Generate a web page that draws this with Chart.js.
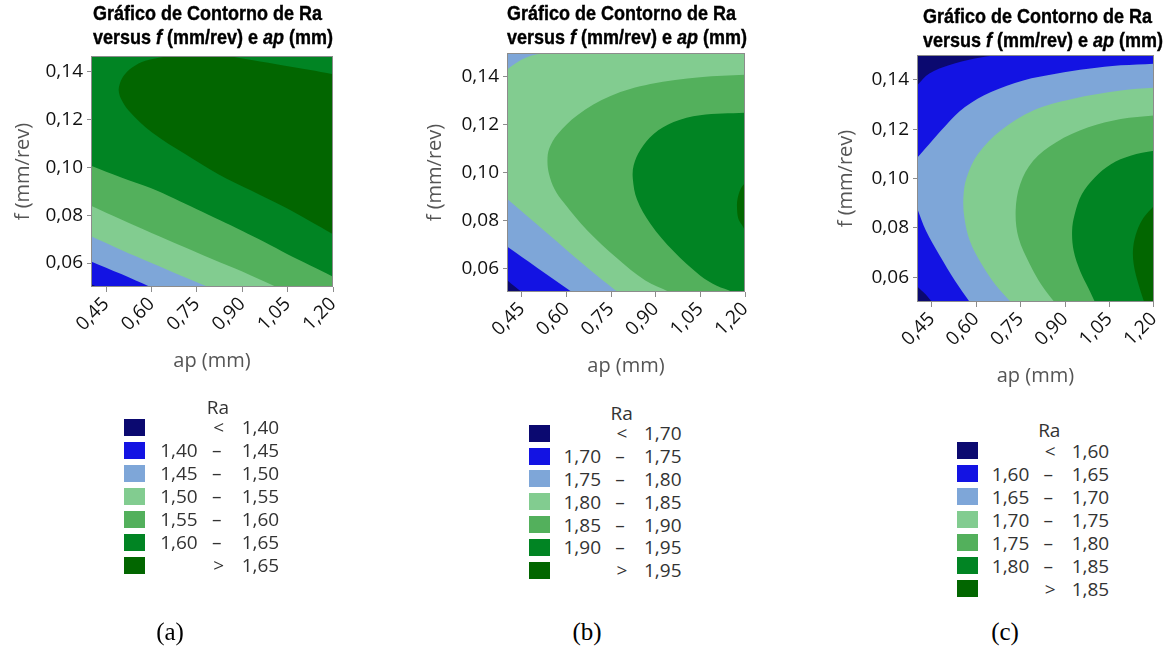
<!DOCTYPE html>
<html>
<head>
<meta charset="utf-8">
<script src="https://cdn.jsdelivr.net/npm/chart.js@4.4.1/dist/chart.umd.min.js"></script>
<style>
  html, body { margin: 0; padding: 0; background: #fff; }
  body { position: relative; width: 1171px; height: 651px; overflow: hidden; font-family: "Open Sans", sans-serif; }
  canvas { position: absolute; top: 0; }
  .title { position: absolute; font-family: "Liberation Sans", Arial, sans-serif; font-weight: bold; font-size: 18px; line-height: 22.2px; color: #000; white-space: nowrap; transform: scaleY(1.1); transform-origin: 0 0; -webkit-text-stroke: 0.35px #000; }
  .legend-item { position: absolute; font-family: "Open Sans", sans-serif; font-size: 19px; line-height: 24px; color: #333; white-space: nowrap; }
  .swatch { position: absolute; width: 21px; height: 17px; }
  .caption { position: absolute; font-family: "Liberation Serif", "Times New Roman", serif; font-size: 25px; line-height: 30px; color: #000; }
</style>
</head>
<body>
<canvas id="chartA"></canvas>
<canvas id="chartB"></canvas>
<canvas id="chartC"></canvas>
<script>
// Colours of the seven Ra classes, lowest to highest
const levelColors = ['#0b0970', '#1313e3', '#7ea6d8', '#82cc90', '#53b05c', '#018423', '#026600'];

// Axis ticks
const xTickValues = [0.45, 0.60, 0.75, 0.90, 1.05, 1.20];
const xTickLabels = ['0,45', '0,60', '0,75', '0,90', '1,05', '1,20'];
const yTickValues = [0.06, 0.08, 0.10, 0.12, 0.14];
const yTickLabels = ['0,06', '0,08', '0,10', '0,12', '0,14'];

// Class limits of Ra for each plot
const raLimitsA = ['1,40', '1,45', '1,50', '1,55', '1,60', '1,65'];
const raLimitsB = ['1,70', '1,75', '1,80', '1,85', '1,90', '1,95'];
const raLimitsC = ['1,60', '1,65', '1,70', '1,75', '1,80', '1,85'];

// Zones [ap, f] where Ra reaches each class. Each outline follows the contour
// across the plot and closes through points lying outside the axis limits.

// Plot (a)
const aZoneAll = [[0.30, 0.035], [1.30, 0.035], [1.30, 0.165], [0.30, 0.165]];
const aZone140 = [[0.37, 0.0532], [0.40, 0.0513], [0.4204, 0.05], [0.445, 0.0484], [0.47, 0.035], [1.30, 0.035], [1.30, 0.165], [0.30, 0.165], [0.30, 0.058]];
const aZone145 = [[0.37, 0.0623], [0.40, 0.0607], [0.50, 0.0554], [0.596, 0.05], [0.63, 0.048], [0.66, 0.035], [1.30, 0.035], [1.30, 0.165], [0.30, 0.165], [0.30, 0.066]];
const aZone150 = [[0.37, 0.0729], [0.40, 0.0712], [0.50, 0.0655], [0.60, 0.0600], [0.70, 0.0546], [0.788, 0.05], [0.83, 0.048], [0.86, 0.035], [1.30, 0.035], [1.30, 0.165], [0.30, 0.165], [0.30, 0.078]];
const aZone155 = [[0.37, 0.0857], [0.40, 0.0840], [0.50, 0.0782], [0.60, 0.0726], [0.70, 0.0671], [0.80, 0.0617], [0.90, 0.0565], [1.013, 0.05], [1.05, 0.048], [1.08, 0.035], [1.30, 0.035], [1.30, 0.165], [0.30, 0.165], [0.30, 0.090]];
const aZone160 = [[0.37, 0.1021], [0.40, 0.1007], [0.50, 0.0958], [0.597, 0.0914], [0.675, 0.0870], [0.748, 0.0826], [0.825, 0.0780], [0.899, 0.0735], [0.975, 0.0687], [1.048, 0.0638], [1.125, 0.0590], [1.20, 0.0543], [1.23, 0.0524], [1.30, 0.035], [1.30, 0.165], [0.30, 0.165], [0.30, 0.108]];
const aZone165 = [[1.30, 0.066], [1.25, 0.0686], [1.20, 0.0721], [1.12, 0.0778], [1.041, 0.0833], [0.931, 0.0902], [0.821, 0.0972], [0.711, 0.1056], [0.602, 0.1146], [0.525, 0.1237], [0.500, 0.1285], [0.4917, 0.1321], [0.495, 0.1349], [0.508, 0.1383], [0.536, 0.1418], [0.580, 0.1446], [0.645, 0.1463], [0.711, 0.1474], [0.821, 0.1471], [0.931, 0.1449], [1.041, 0.1425], [1.12, 0.1408], [1.20, 0.1390], [1.25, 0.1380], [1.30, 0.137]];

// Plot (b)
const bZoneAll = [[0.30, 0.035], [1.30, 0.035], [1.30, 0.165], [0.30, 0.165]];
const bZone170 = [[0.37, 0.0584], [0.40, 0.0550], [0.425, 0.0524], [0.45, 0.05], [0.47, 0.048], [0.49, 0.035], [1.30, 0.035], [1.30, 0.165], [0.30, 0.165], [0.30, 0.065]];
const bZone175 = [[0.37, 0.0716], [0.40, 0.0690], [0.50, 0.0603], [0.618, 0.05], [0.65, 0.0473], [0.68, 0.035], [1.30, 0.035], [1.30, 0.165], [0.30, 0.165], [0.30, 0.080]];
const bZone180 = [[0.37, 0.0922], [0.40, 0.0890], [0.50, 0.0783], [0.60, 0.0676], [0.70, 0.0571], [0.772, 0.05], [0.80, 0.0472], [0.83, 0.035], [1.30, 0.035], [1.30, 0.165], [0.60, 0.165], [0.56, 0.1509], [0.523, 0.15], [0.48, 0.1488], [0.44, 0.1465], [0.40, 0.1430], [0.37, 0.1398], [0.30, 0.130], [0.30, 0.100]];
const bZone185 = [[1.30, 0.142], [1.25, 0.1412], [1.20, 0.1409], [1.049, 0.1399], [0.882, 0.1370], [0.748, 0.1320], [0.6365, 0.1240], [0.570, 0.1160], [0.542, 0.1100], [0.536, 0.1050], [0.541, 0.0995], [0.560, 0.0930], [0.592, 0.0872], [0.670, 0.0757], [0.770, 0.0641], [0.865, 0.0548], [0.945, 0.05], [0.98, 0.047], [1.00, 0.035], [1.30, 0.035]];
const bZone190 = [[1.30, 0.1255], [1.25, 0.1253], [1.20, 0.1250], [1.049, 0.1240], [0.960, 0.1211], [0.893, 0.1161], [0.849, 0.1096], [0.826, 0.1031], [0.823, 0.0973], [0.837, 0.0887], [0.882, 0.0786], [0.960, 0.0670], [1.049, 0.0569], [1.105, 0.0526], [1.158, 0.05], [1.19, 0.047], [1.21, 0.035], [1.30, 0.035]];
const bZone195 = [[1.30, 0.098], [1.22, 0.097], [1.20, 0.0955], [1.185, 0.0930], [1.175, 0.0890], [1.173, 0.0860], [1.177, 0.0810], [1.190, 0.0780], [1.20, 0.0760], [1.22, 0.074], [1.30, 0.073]];

// Plot (c)
const cZoneAll = [[0.30, 0.035], [1.30, 0.035], [1.30, 0.165], [0.30, 0.165]];
const cZone160 = [[0.37, 0.1342], [0.40, 0.1377], [0.4416, 0.1425], [0.5074, 0.1459], [0.595, 0.1486], [0.672, 0.15], [0.72, 0.1508], [0.75, 0.165], [1.30, 0.165], [1.30, 0.035], [0.47, 0.035], [0.462, 0.0486], [0.451, 0.05], [0.428, 0.0532], [0.40, 0.0564], [0.37, 0.0596], [0.30, 0.065]];
const cZone165 = [[0.37, 0.1042], [0.40, 0.1083], [0.4416, 0.1140], [0.4964, 0.1214], [0.562, 0.1289], [0.650, 0.1350], [0.759, 0.1397], [0.869, 0.1424], [0.9786, 0.1444], [1.088, 0.1458], [1.20, 0.1465], [1.25, 0.1468], [1.30, 0.1468], [1.30, 0.035], [0.60, 0.035], [0.595, 0.047], [0.578, 0.05], [0.5293, 0.0584], [0.4745, 0.0692], [0.4307, 0.0787], [0.40, 0.0882], [0.38, 0.095], [0.30, 0.100]];
const cZone170 = [[1.30, 0.1372], [1.25, 0.1370], [1.20, 0.1367], [1.088, 0.1356], [0.9238, 0.1322], [0.7923, 0.1275], [0.6827, 0.1194], [0.606, 0.1099], [0.5677, 0.1004], [0.5567, 0.0923], [0.560, 0.0841], [0.5786, 0.0747], [0.619, 0.0652], [0.665, 0.0570], [0.717, 0.05], [0.74, 0.047], [0.76, 0.035], [1.30, 0.035]];
const cZone175 = [[1.30, 0.1262], [1.25, 0.1260], [1.20, 0.1255], [1.088, 0.1241], [0.9786, 0.1207], [0.869, 0.1146], [0.7923, 0.1072], [0.7485, 0.0977], [0.7332, 0.0869], [0.743, 0.0760], [0.7814, 0.0652], [0.820, 0.0570], [0.864, 0.05], [0.885, 0.047], [0.90, 0.035], [1.30, 0.035]];
const cZone180 = [[1.30, 0.1122], [1.25, 0.1119], [1.20, 0.1112], [1.121, 0.1092], [1.055, 0.1058], [1.0005, 0.1004], [0.9567, 0.0936], [0.9326, 0.0855], [0.9238, 0.0787], [0.9293, 0.0706], [0.9512, 0.0625], [0.9786, 0.0557], [1.001, 0.05], [1.012, 0.047], [1.03, 0.035], [1.30, 0.035]];
const cZone185 = [[1.30, 0.097], [1.23, 0.0925], [1.20, 0.0889], [1.165, 0.0841], [1.143, 0.0787], [1.130, 0.0720], [1.132, 0.0652], [1.1485, 0.0570], [1.167, 0.05], [1.175, 0.046], [1.19, 0.035], [1.30, 0.035]];

// Panel geometry (page pixels, plotting areas on whole pixels)
const panels = [
  {
    id: 'chartA', left: 0, width: 380, height: 400, yMax: 0.1466,
    area: { left: 91, top: 56, right: 333, bottom: 287 },
    yTitleX: 23, xTitleY: 361.7,
    zones: [aZoneAll, aZone140, aZone145, aZone150, aZone155, aZone160, aZone165],
    limits: raLimitsA,
    titlePos: { left: 93, top: 1.2 },
    legend: { raX: 218, raY: 407, swX: 124.3, leftEnd: 197.7, dashX: 216.7, rightStart: 241.7, row0: 427.3, pitch: 23 },
    caption: { x: 170, y: 632, text: '(a)' }
  },
  {
    id: 'chartB', left: 380, width: 410, height: 400, yMax: 0.15,
    area: { left: 127, top: 53, right: 365, bottom: 292 },
    yTitleX: 55, xTitleY: 366.7,
    zones: [bZoneAll, bZone170, bZone175, bZone180, bZone185, bZone190, bZone195],
    limits: raLimitsB,
    titlePos: { left: 507, top: 1.2 },
    legend: { raX: 621.7, raY: 413.3, swX: 529.3, leftEnd: 601, dashX: 620, rightStart: 644, row0: 433.3, pitch: 22.8 },
    caption: { x: 587, y: 632, text: '(b)' }
  },
  {
    id: 'chartC', left: 790, width: 381, height: 400, yMax: 0.15,
    area: { left: 127, top: 55, right: 371, bottom: 302 },
    yTitleX: 56.7, xTitleY: 376.7,
    zones: [cZoneAll, cZone160, cZone165, cZone170, cZone175, cZone180, cZone185],
    limits: raLimitsC,
    titlePos: { left: 923, top: 3.5 },
    legend: { raX: 1049.3, raY: 430, swX: 956.7, leftEnd: 1029.3, dashX: 1048.3, rightStart: 1071.7, row0: 450.7, pitch: 23 },
    caption: { x: 1005, y: 632, text: '(c)' }
  }
];

Chart.defaults.font.family = '"Open Sans", sans-serif';

// Grey frame around the plotting area
const framePlugin = {
  id: 'plotFrame',
  afterDraw(chart) {
    const { ctx, chartArea: a } = chart;
    ctx.save();
    ctx.strokeStyle = '#8c8c8c';
    ctx.lineWidth = 1;
    ctx.strokeRect(Math.round(a.left) + 0.5, Math.round(a.top) + 0.5, Math.round(a.right - a.left) - 1, Math.round(a.bottom - a.top) - 1);
    ctx.restore();
  }
};

function addText(cls, text, style) {
  const d = document.createElement('div');
  d.className = cls;
  d.innerHTML = text;
  Object.assign(d.style, style);
  document.body.appendChild(d);
  return d;
}

panels.forEach(p => {
  const canvas = document.getElementById(p.id);
  canvas.width = p.width;
  canvas.height = p.height;
  canvas.style.left = p.left + 'px';
  canvas.style.width = p.width + 'px';
  canvas.style.height = p.height + 'px';

  const titleFont = { family: '"Open Sans", sans-serif', size: 20 };
  const tickFont = { family: '"Open Sans", sans-serif', size: 19 };

  const datasets = p.zones.map((zone, i) => ({
    data: zone.map(pt => ({ x: pt[0], y: pt[1] })),
    backgroundColor: levelColors[i],
    borderColor: levelColors[i],
    borderWidth: 0,
    pointRadius: 0,
    pointHoverRadius: 0,
    tension: 0.35,
    capBezierPoints: false,
    fill: 'shape',
    order: -i
  }));

  new Chart(canvas, {
    type: 'line',
    data: { datasets },
    plugins: [framePlugin],
    options: {
      responsive: false,
      animation: false,
      events: [],
      layout: { padding: { left: 0, top: p.area.top, right: p.width - p.area.right, bottom: 0 } },
      plugins: { legend: { display: false }, tooltip: { enabled: false } },
      scales: {
        x: {
          type: 'linear', min: 0.40, max: 1.20,
          afterBuildTicks: s => { s.ticks = xTickValues.map(v => ({ value: v })); },
          afterFit: s => { s.height = p.height - p.area.bottom; },
          ticks: { callback: (v, i) => xTickLabels[i], minRotation: 45, maxRotation: 45, autoSkip: false, font: tickFont, color: '#111', padding: 1 },
          grid: { drawOnChartArea: false, drawTicks: true, tickLength: 5, color: '#8c8c8c' },
          border: { display: false },
          title: { display: true, text: 'ap (mm)', color: '#555', font: titleFont, padding: { top: 0, bottom: p.height - 12 - p.xTitleY } }
        },
        y: {
          type: 'linear', min: 0.05, max: p.yMax,
          afterBuildTicks: s => { s.ticks = yTickValues.map(v => ({ value: v })); },
          afterFit: s => { s.width = p.area.left; },
          ticks: { callback: (v, i) => yTickLabels[i], font: tickFont, color: '#111', padding: 4 },
          grid: { drawOnChartArea: false, drawTicks: true, tickLength: 4, color: '#8c8c8c' },
          border: { display: false },
          title: { display: true, text: 'f (mm/rev)', color: '#555', font: titleFont, padding: { top: p.yTitleX - 12, bottom: 0 } }
        }
      }
    }
  });

  // Title
  addText('title', 'Gráfico de Contorno de Ra<br>versus <i>f</i> (mm/rev) e <i>ap</i> (mm)', { left: p.titlePos.left + 'px', top: p.titlePos.top + 'px' });

  // Legend
  const L = p.legend;
  addText('legend-item', 'Ra', { left: (L.raX - 40) + 'px', width: '80px', textAlign: 'center', top: (L.raY - 12) + 'px' });
  levelColors.forEach((col, k) => {
    const cy = L.row0 + k * L.pitch;
    const sw = document.createElement('div');
    sw.className = 'swatch';
    Object.assign(sw.style, { left: L.swX + 'px', top: (cy - 8.5) + 'px', background: col });
    document.body.appendChild(sw);
    const top = (cy - 12) + 'px';
    if (k === 0) {
      addText('legend-item', '&lt;', { left: (L.dashX - 20) + 'px', width: '44px', textAlign: 'center', top });
      addText('legend-item', p.limits[0], { left: L.rightStart + 'px', top });
    } else if (k === levelColors.length - 1) {
      addText('legend-item', '&gt;', { left: (L.dashX - 20) + 'px', width: '44px', textAlign: 'center', top });
      addText('legend-item', p.limits[p.limits.length - 1], { left: L.rightStart + 'px', top });
    } else {
      addText('legend-item', p.limits[k - 1], { left: (L.leftEnd - 60) + 'px', width: '60px', textAlign: 'right', top });
      addText('legend-item', '–', { left: (L.dashX - 20) + 'px', width: '40px', textAlign: 'center', top });
      addText('legend-item', p.limits[k], { left: L.rightStart + 'px', top });
    }
  });

  // Caption
  addText('caption', p.caption.text, { left: (p.caption.x - 30) + 'px', width: '60px', textAlign: 'center', top: (p.caption.y - 15) + 'px' });
});
</script>
</body>
</html>
